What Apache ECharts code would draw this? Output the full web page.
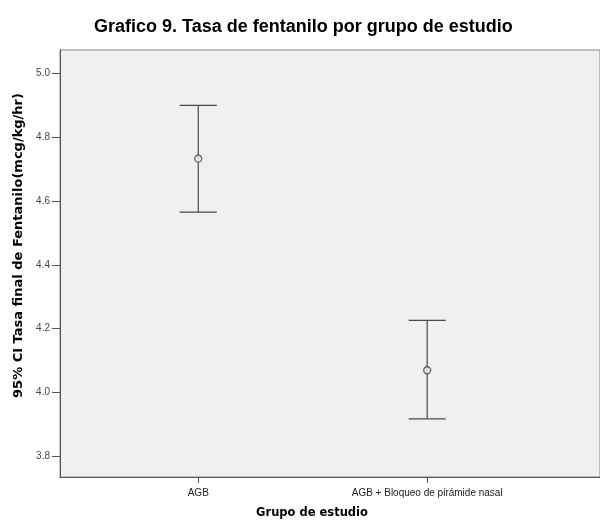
<!DOCTYPE html>
<html>
<head>
<meta charset="utf-8">
<script src="https://cdn.jsdelivr.net/npm/echarts@6/dist/echarts.min.js"></script>
<style>
html,body{margin:0;padding:0;background:#fff;}
#c{width:600px;height:521px;}
</style>
</head>
<body>
<div id="c"></div>
<script>
var categories = ['AGB', 'AGB + Bloqueo de pirámide nasal'];
var categoryPos = [1, 2];
var means = [4.732, 4.070];
var lower = [4.565, 3.918];
var upper = [4.899, 4.226];
var yTicks = [3.8, 4.0, 4.2, 4.4, 4.6, 4.8, 5.0];

var FONT = '"Liberation Sans", Arial, sans-serif';
var FONT2 = '"DejaVu Sans", Verdana, sans-serif';
var chart = echarts.init(document.getElementById('c'), null, {renderer: 'canvas'});

var barData = categoryPos.map(function (x, i) { return [x, lower[i], upper[i]]; });
var meanData = categoryPos.map(function (x, i) { return [x, means[i]]; });

chart.setOption({
  animation: false,
  backgroundColor: '#ffffff',
  title: {
    text: 'Grafico 9. Tasa de fentanilo por grupo de estudio',
    left: 89, top: 13,
    textStyle: {fontFamily: FONT, fontSize: 18, fontWeight: 'bold', color: '#000'}
  },
  grid: {
    left: 60, top: 50, right: 0, bottom: 44,
    outerBoundsMode: 'none', containLabel: false,
    show: true, backgroundColor: '#f0f0f0', borderColor: '#8a8a8a', borderWidth: 1
  },
  xAxis: {
    type: 'value', min: 0.396, max: 2.755,
    name: 'Grupo de estudio', nameLocation: 'middle', nameGap: 30,
    nameTextStyle: {fontFamily: FONT2, fontSize: 11.5, fontWeight: 'bold', color: '#000', padding: [0, 36, 0, 0]},
    splitLine: {show: false},
    axisLine: {show: true, lineStyle: {color: '#555', width: 1}},
    axisTick: {show: true, length: 6, lineStyle: {color: '#555'}, customValues: categoryPos},
    axisLabel: {
      customValues: categoryPos, margin: 11,
      fontFamily: FONT, fontSize: 10, color: '#222',
      formatter: function (v) { var i = categoryPos.indexOf(v); return i >= 0 ? categories[i] : ''; }
    }
  },
  yAxis: {
    type: 'value', min: 3.736, max: 5.072,
    name: '95% CI Tasa final de Fentanilo(mcg/kg/hr)', nameLocation: 'middle', nameGap: 31,
    nameRotate: 90,
    nameTextStyle: {fontFamily: FONT2, fontSize: 13, fontWeight: 'bold', color: '#000', padding: [0, 0, 0, 36]},
    splitLine: {show: false},
    axisLine: {show: true, lineStyle: {color: '#555', width: 1}},
    axisTick: {show: true, length: 8, lineStyle: {color: '#555'}, customValues: yTicks},
    axisLabel: {
      customValues: yTicks, margin: 10,
      fontFamily: FONT, fontSize: 10, color: '#444',
      formatter: function (v) { return v.toFixed(1); }
    }
  },
  series: [
    {
      type: 'custom',
      data: barData,
      renderItem: function (params, api) {
        var x = api.value(0);
        var lo = api.coord([x, api.value(1)]);
        var hi = api.coord([x, api.value(2)]);
        var hw = 18.5;
        var st = {stroke: '#4a4a4a', lineWidth: 1.2};
        return {
          type: 'group',
          children: [
            {type: 'line', shape: {x1: lo[0], y1: lo[1], x2: hi[0], y2: hi[1]}, style: st},
            {type: 'line', shape: {x1: hi[0] - hw, y1: hi[1], x2: hi[0] + hw, y2: hi[1]}, style: st},
            {type: 'line', shape: {x1: lo[0] - hw, y1: lo[1], x2: lo[0] + hw, y2: lo[1]}, style: st}
          ]
        };
      },
      z: 2
    },
    {
      type: 'scatter',
      data: meanData,
      symbol: 'circle',
      symbolSize: 7,
      itemStyle: {color: '#f0f0f0', borderColor: '#444', borderWidth: 1.3},
      z: 3
    }
  ]
});
</script>
</body>
</html>
